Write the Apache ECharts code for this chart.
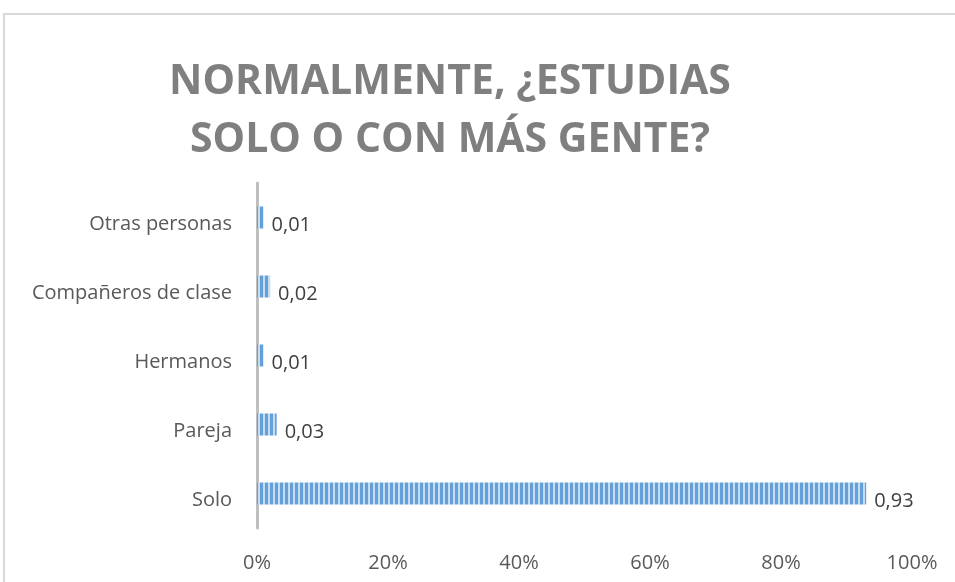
<!DOCTYPE html>
<html lang="es">
<head>
  <meta charset="UTF-8">
  <title>Normalmente, ¿estudias solo o con más gente?</title>
  <script src="https://cdn.jsdelivr.net/npm/echarts@6/dist/echarts.min.js"></script>
</head>
<body style="margin: 0; background: #fff;">
<div id="main" style="width: 955px; height: 582px;"></div>
<script type="text/javascript">
  const categories = ['Solo', 'Pareja', 'Hermanos', 'Compañeros de clase', 'Otras personas']
  const values = [0.93, 0.03, 0.01, 0.02, 0.01]
  const tickValues = [0, 0.2, 0.4, 0.6, 0.8, 1]

  // vertical stripe fill like the original
  const stripe = document.createElement('canvas')
  stripe.width = 5
  stripe.height = 10
  const ctx = stripe.getContext('2d')
  ctx.fillStyle = '#c6ddf1'
  ctx.fillRect(0, 0, 5, 10)
  ctx.fillStyle = '#64a0da'
  ctx.fillRect(0, 0, 3, 10)

  const myChart = echarts.init(document.getElementById('main'))

  const font = '"Open Sans", sans-serif'

  const option = {
    backgroundColor: '#fff',
    title: {
      text: 'NORMALMENTE, ¿ESTUDIAS\nSOLO O CON MÁS GENTE?',
      left: 445,
      top: 48,
      textAlign: 'center',
      textStyle: {
        fontFamily: font,
        fontSize: 41,
        fontWeight: 'bold',
        color: '#7f7f7f',
        lineHeight: 58
      }
    },
    graphic: [{
      type: 'rect',
      shape: {x: 4, y: 14, width: 1000, height: 600},
      style: {fill: 'none', stroke: '#d9d9d9', lineWidth: 2}
    }],
    grid: {
      left: 257,
      right: 43,
      top: 183,
      bottom: 54
    },
    xAxis: {
      type: 'value',
      min: 0,
      max: 1,
      interval: 0.2,
      axisLine: {show: false},
      axisTick: {show: false},
      splitLine: {show: false},
      axisLabel: {
        margin: 25,
        fontFamily: font,
        fontSize: 20,
        color: '#595959',
        formatter: v => tickValues.includes(Math.round(v * 10) / 10) ? Math.round(v * 100) + '%' : ''
      }
    },
    yAxis: {
      type: 'category',
      data: categories,
      axisLine: {lineStyle: {color: '#bfbfbf', width: 3}},
      axisTick: {show: false},
      axisLabel: {
        margin: 25,
        verticalAlign: 'top',
        lineHeight: 14,
        fontFamily: font,
        fontSize: 20,
        color: '#595959'
      }
    },
    series: [{
      type: 'bar',
      data: values,
      barWidth: 22,
      itemStyle: {
        color: {image: stripe, repeat: 'repeat'}
      },
      label: {
        show: true,
        position: 'right',
        distance: 8,
        offset: [0, 8],
        fontFamily: font,
        fontSize: 20,
        color: '#404040',
        formatter: p => p.value.toFixed(2).replace('.', ',')
      }
    }]
  }

  myChart.setOption(option)
</script>
</body>
</html>
